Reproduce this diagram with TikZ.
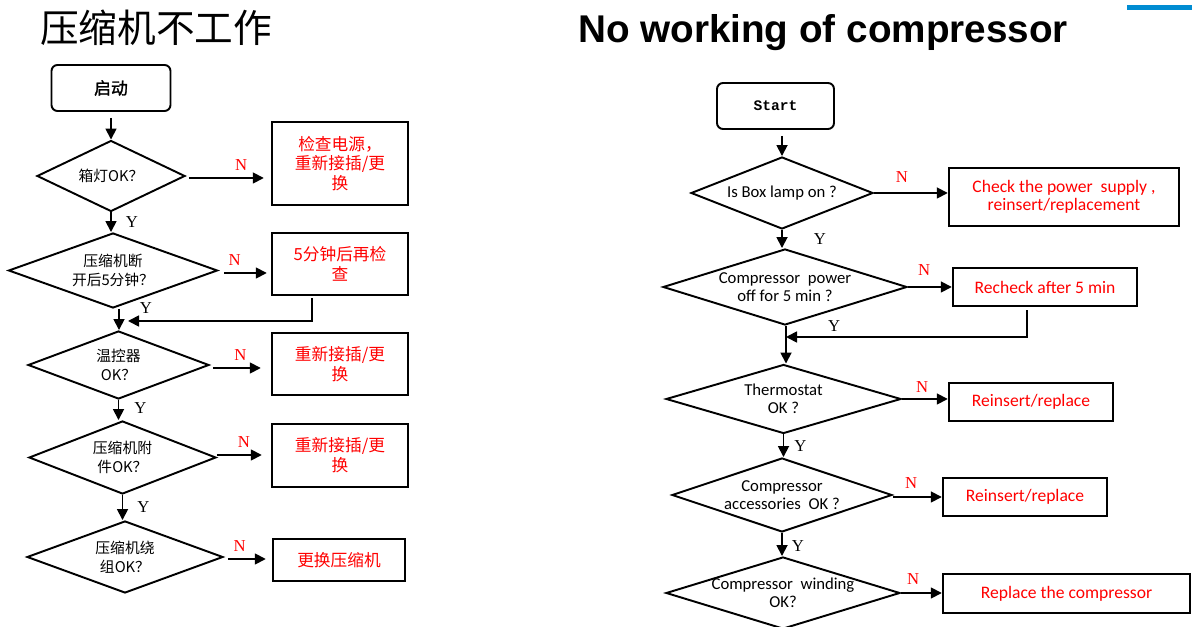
\documentclass[tikz,border=0pt]{standalone}
\usepackage{fontspec}
\setmainfont{Carlito}
\newfontfamily\cjk{Noto Sans CJK SC}
\newfontfamily\cjkbf[FakeBold=1.5]{Noto Sans CJK SC}
\newfontfamily\titlefont{Liberation Sans}
\newfontfamily\lblfont{Liberation Serif}
\newfontfamily\startfont{Liberation Mono}
\usetikzlibrary{shapes.geometric}
\usetikzlibrary{arrows.meta}
\usepackage{xcolor}
\definecolor{barblue}{RGB}{0,140,210}

\newcommand{\cjkdec}{\cjk\fontsize{8.4}{10.8}\selectfont}
\newcommand{\cjkact}{\cjk\fontsize{9.5}{11.3}\selectfont}
\newcommand{\engdec}{\fontsize{9.5}{10.2}\selectfont}
\newcommand{\engact}{\fontsize{10}{10.6}\selectfont}

\tikzset{
  startbox/.style={rectangle, rounded corners=0.12cm, draw, line width=1.1pt, align=center},
  decision/.style={diamond, draw, line width=1.1pt, inner sep=-4pt, align=center},
  actbox/.style={rectangle, draw, line width=1.4pt, inner sep=0pt, align=center, text=red},
  flow/.style={line width=1pt, -{Triangle[length=2.2mm,width=2.2mm]}},
  ylbl/.style={font=\lblfont\fontsize{9.5}{9.5}\selectfont, inner sep=0pt},
  nlbl/.style={font=\lblfont\fontsize{9.5}{9.5}\selectfont, inner sep=0pt, text=red}
}

\begin{document}
\begin{tikzpicture}
    \useasboundingbox (0,0) rectangle (23.84,-12.54);
    \clip (0,0) rectangle (23.84,-12.54);

    % Titles
    \node[font=\cjk\fontsize{22}{22}\selectfont] (titlecn) at (3.12,-0.55) {压缩机不工作};
    \node[font=\titlefont\bfseries\fontsize{22}{22}\selectfont, anchor=base] (titleen) at (16.46,-0.86) {No working of compressor};
    \fill[barblue] (22.54,-0.10) rectangle (23.84,-0.20);

    % Chinese chart
    \node[startbox, minimum width=2.38cm, minimum height=0.92cm, font=\cjkbf\fontsize{9.6}{9.6}\selectfont] (cnstart) at (2.22,-1.76) {启动};
    \node[decision, aspect=2.08, minimum width=2.96cm, minimum height=1.42cm, font=\cjkdec] (cnlamp) at (2.22,-3.52) {箱灯OK？};
    \node[decision, aspect=2.79, minimum width=4.18cm, minimum height=1.50cm, font=\cjkdec] (cnoff) at (2.26,-5.41) {压缩机断\\开后5分钟？};
    \node[decision, aspect=2.66, minimum width=3.62cm, minimum height=1.36cm, font=\cjkdec] (cnthermo) at (2.37,-7.30) {温控器\\OK？};
    \node[decision, aspect=2.56, minimum width=3.74cm, minimum height=1.46cm, font=\cjkdec] (cnacc) at (2.45,-9.15) {压缩机附\\件OK？};
    \node[decision, aspect=2.72, minimum width=3.92cm, minimum height=1.44cm, font=\cjkdec] (cnwind) at (2.50,-11.14) {压缩机绕\\组OK？};

    \node[actbox, minimum width=2.72cm, minimum height=1.66cm, font=\cjkact] (cnpower) at (6.80,-3.27) {检查电源，\\重新接插/更\\换};
    \node[actbox, minimum width=2.72cm, minimum height=1.24cm, font=\cjkact] (cnwait) at (6.80,-5.28) {5分钟后再检\\查};
    \node[actbox, minimum width=2.72cm, minimum height=1.24cm, font=\cjkact] (cnrethermo) at (6.80,-7.28) {重新接插/更\\换};
    \node[actbox, minimum width=2.72cm, minimum height=1.26cm, font=\cjkact] (cnreacc) at (6.80,-9.11) {重新接插/更\\换};
    \node[actbox, minimum width=2.64cm, minimum height=0.84cm, font=\cjkact] (cnreplace) at (6.78,-11.20) {更换压缩机};

    \coordinate (cnmerge) at (2.38,-6.42);

    \draw[flow, shorten <=0.12cm] (cnstart.south) -- (cnstart.south |- cnlamp.north);
    \draw[flow] (cnlamp.south) -- node[ylbl, right=0.28cm] {Y} (cnlamp.south |- cnoff.north);
    \draw[flow] (cnoff.south -| cnmerge) -- (cnmerge |- cnthermo.north);
    \draw[flow] (cnthermo.south) -- node[ylbl, pos=0.4, right=0.3cm] {Y} (cnthermo.south |- cnacc.north);
    \draw[flow] (cnacc.south) -- node[ylbl, right=0.28cm] {Y} (cnacc.south |- cnwind.north);
    \draw[flow, shorten >=0.18cm] ([xshift=-0.56cm, yshift=-0.04cm]cnwait.south) |- node[ylbl, pos=0.93, above=0.14cm] {Y} (cnmerge);

    \draw[flow, shorten <=0.06cm, shorten >=0.14cm] (cnlamp.east |- 0,-3.56) -- node[nlbl, pos=0.65, above=0.14cm] {N} (cnpower.west |- 0,-3.56);
    \draw[flow, shorten <=0.12cm, shorten >=0.08cm] (cnoff.east |- 0,-5.46) -- node[nlbl, pos=0.31, above=0.14cm] {N} (cnwait.west |- 0,-5.46);
    \draw[flow, shorten <=0.06cm, shorten >=0.2cm] (cnthermo.east |- 0,-7.36) -- node[nlbl, pos=0.5, above=0.14cm] {N} (cnrethermo.west |- 0,-7.36);
    \draw[flow, shorten >=0.18cm] (cnacc.east |- 0,-9.10) -- node[nlbl, pos=0.5, above=0.14cm] {N} (cnreacc.west |- 0,-9.10);
    \draw[flow, shorten <=0.08cm, shorten >=0.12cm] (cnwind.east |- 0,-11.18) -- node[nlbl, pos=0.33, above=0.14cm] {N} (cnreplace.west |- 0,-11.18);

    % English chart
    \node[startbox, minimum width=2.34cm, minimum height=0.92cm, font=\startfont\bfseries\fontsize{8.3}{8.3}\selectfont] (enstart) at (15.51,-2.12) {Start};
    \node[decision, aspect=2.53, minimum width=3.64cm, minimum height=1.44cm, font=\engdec] (enlamp) at (15.64,-3.86) {Is Box lamp on ?};
    \node[decision, aspect=3.21, minimum width=4.88cm, minimum height=1.52cm, font=\engdec] (enoff) at (15.70,-5.74) {Compressor\ \ power\\off for 5 min ?};
    \node[decision, aspect=3.41, minimum width=4.70cm, minimum height=1.38cm, font=\engdec] (enthermo) at (15.67,-7.98) {Thermostat\\OK ?};
    \node[decision, aspect=2.97, minimum width=4.40cm, minimum height=1.48cm, font=\engdec] (enacc) at (15.64,-9.90) {Compressor\\accessories\ \ OK ?};
    \node[decision, aspect=3.25, minimum width=4.68cm, minimum height=1.44cm, font=\engdec] (enwind) at (15.66,-11.86) {Compressor\ \ winding\\OK?};

    \node[actbox, minimum width=4.60cm, minimum height=1.16cm, font=\engact] (enpower) at (21.28,-3.94) {Check the power\ \ supply ,\\reinsert/replacement};
    \node[actbox, minimum width=3.68cm, minimum height=0.76cm, font=\engact] (enwait) at (20.90,-5.74) {Recheck after 5 min};
    \node[actbox, minimum width=3.28cm, minimum height=0.76cm, font=\engact] (enrethermo) at (20.62,-8.04) {Reinsert/replace};
    \node[actbox, minimum width=3.28cm, minimum height=0.76cm, font=\engact] (enreacc) at (20.50,-9.94) {Reinsert/replace};
    \node[actbox, minimum width=4.94cm, minimum height=0.78cm, font=\engact] (enreplace) at (21.33,-11.87) {Replace the compressor};

    \coordinate (enmerge) at (15.72,-6.74);

    \draw[flow, shorten <=0.12cm] (enlamp.north |- enstart.south) -- (enlamp.north);
    \draw[flow] (enlamp.south) -- node[ylbl, right=0.62cm] {Y} (enlamp.south |- enoff.north);
    \draw[flow] (enoff.south -| enmerge) -- (enmerge |- enthermo.north);
    \draw[flow] (enthermo.south) -- node[ylbl, pos=0.5, right=0.2cm] {Y} (enthermo.south |- enacc.north);
    \draw[flow] (enacc.south) -- node[ylbl, pos=0.55, right=0.18cm] {Y} (enacc.south |- enwind.north);
    \draw[flow] ([xshift=-0.36cm, yshift=-0.06cm]enwait.south) |- node[ylbl, pos=0.9, above=0.1cm] {Y} (enmerge);

    \draw[flow] (enlamp.east) -- node[nlbl, pos=0.38, above=0.2cm] {N} (enlamp.east -| enpower.west);
    \draw[flow] (enoff.east) -- node[nlbl, pos=0.37, above=0.22cm] {N} (enoff.east -| enwait.west);
    \draw[flow] (enthermo.east) -- node[nlbl, pos=0.44, above=0.12cm] {N} (enthermo.east -| enrethermo.west);
    \draw[flow] (enacc.east |- 0,-9.94) -- node[nlbl, pos=0.37, above=0.16cm] {N} (enreacc.west);
    \draw[flow] (enwind.east) -- node[nlbl, pos=0.3, above=0.16cm] {N} (enwind.east -| enreplace.west);
\end{tikzpicture}
\end{document}
